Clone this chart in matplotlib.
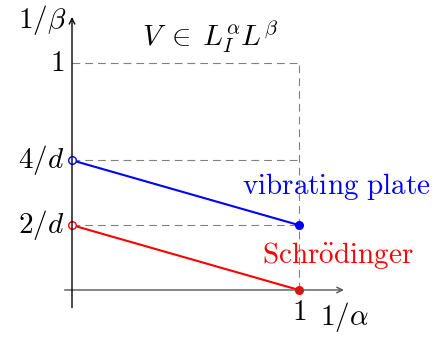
import numpy as np
import matplotlib
matplotlib.use('Agg')
from matplotlib import pyplot as plt

plt.rcParams['mathtext.fontset'] = 'cm'

d = 7
x_pts = [0, 1]
plate = [4 / d, 2 / d]
schrod = [2 / d, 0]
yticks = [2 / d, 4 / d, 1]
ylabels = [r'$2/d$', r'$4/d$', r'$1$']

fig = plt.figure(figsize=(4.36, 3.37), dpi=100)
ax = fig.add_axes([0, 0, 1, 1])
ax.set_xlim(-72 / 227, 364 / 227)
ax.set_ylim(-47 / 227, 290 / 227)
ax.axis('off')

# dashed guides
for yv in yticks:
    ax.plot([0, 1], [yv, yv], ls=(0, (7, 4.5)), color='gray', lw=0.8)
ax.plot([1, 1], [0, 1], ls=(0, (7, 4.5)), color='gray', lw=0.8)

# axes with arrows
ax.annotate('', xy=(1.21, 0), xytext=(-0.045, 0),
            arrowprops=dict(arrowstyle='->', color='#555555', lw=1.0))
ax.annotate('', xy=(0, 1.215), xytext=(0, -0.09),
            arrowprops=dict(arrowstyle='->', color='black', lw=1.0))

ax.plot(x_pts, plate, color='blue', lw=1.5)
ax.plot(x_pts, schrod, color='red', lw=1.5)
ax.plot([0], [plate[0]], 'o', mfc='white', mec='blue', ms=5.5, mew=1)
ax.plot([0], [schrod[0]], 'o', mfc='white', mec='red', ms=5.5, mew=1)
ax.plot([1], [plate[1]], 'o', color='blue', ms=5.5)
ax.plot([1], [schrod[1]], 'o', color='red', ms=5.5)

fs = 21
for yv, lab in zip(yticks, ylabels):
    ax.text(-0.035, yv, lab, ha='right', va='center', fontsize=fs)
ax.text(1, -0.097, r'$1$', ha='center', va='center', fontsize=fs)
ax.text(1.20, -0.12, r'$1/\alpha$', ha='center', va='center', fontsize=fs)
ax.text(-0.13, 1.19, r'$1/\beta$', ha='center', va='center', fontsize=fs)
ax.text(0.608, 1.118, r'$V\;\in\;L_I^{\alpha}L^{\beta}$', ha='center', va='center', fontsize=fs)
ax.text(1.163, 0.454, r'$\mathrm{vibrating\ plate}$', color='blue', ha='center', va='center', fontsize=fs)
ax.text(1.17, 0.154, r'$\mathrm{Schr\ddot{o}dinger}$', color='red', ha='center', va='center', fontsize=fs)

fig.savefig('out.png', dpi=100)
